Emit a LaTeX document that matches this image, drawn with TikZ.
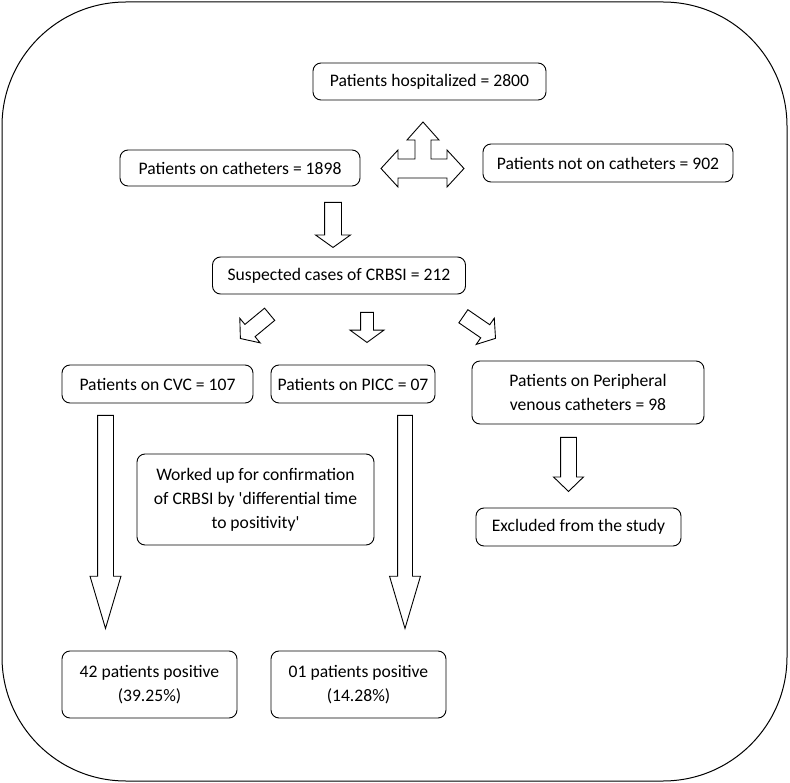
\documentclass[tikz,border=0pt]{standalone}
\usepackage{fontspec}
\setmainfont{Carlito}
\usetikzlibrary{shapes.arrows}

\begin{document}
\begin{tikzpicture}[x=1pt,y=-1pt,
  box/.style={draw,rounded corners=8pt,line width=0.9pt,align=center,inner sep=0pt,font=\fontsize{17.6}{24}\selectfont},
  fatarrow/.style={draw,single arrow,line width=0.9pt,inner xsep=0pt,anchor=tail}]
\useasboundingbox (0,0) rectangle (790,783);
\draw[line width=1pt,rounded corners=124pt] (2,2) rectangle (787,781);
\node[box,minimum width=233,minimum height=37] (hosp) at (429.5,81.5) {Patients hospitalized = 2800};
\node[box,minimum width=240,minimum height=36] (cath) at (240,168) {Patients on catheters = 1898};
\node[box,minimum width=250,minimum height=38] (nocath) at (608,163) {Patients not on catheters = 902};
\node[box,minimum width=253,minimum height=37] (crbsi) at (339,275.5) {Suspected cases of CRBSI = 212};
\node[box,minimum width=191,minimum height=38] (cvc) at (157.5,384) {Patients on CVC = 107};
\node[box,minimum width=164,minimum height=38] (picc) at (353,384) {Patients on PICC = 07};
\node[box,minimum width=232,minimum height=63] (pvc) at (588,392.5) {Patients on Peripheral\\venous catheters = 98};
\node[box,minimum width=205,minimum height=38] (excl) at (578.5,527) {Excluded from the study};
\node[box,minimum width=237,minimum height=91] (workup) at (255.5,499.5) {Worked up for confirmation\\of CRBSI by \textquotesingle differential time\\to positivity\textquotesingle};
\node[box,minimum width=175,minimum height=67] (poscvc) at (149.5,684.5) {42 patients positive\\(39.25\%)};
\node[box,minimum width=175,minimum height=67] (pospicc) at (358.5,684.5) {01 patients positive\\(14.28\%)};
\draw[line width=0.9pt] (423,122) -- (439,140) -- (431,140) -- (431,159) -- (447,159) -- (447,150)
  -- (464,168.5) -- (447,187) -- (447,178) -- (398,178) -- (398,187) -- (381,168.5) -- (398,150)
  -- (398,159) -- (415,159) -- (415,140) -- (407,140) -- cycle;
\node[fatarrow,rotate=-90,minimum height=45,inner ysep=8,single arrow head extend=9,single arrow tip angle=109] (tocrbsi) at (333,202) {};
\node[fatarrow,rotate=-140.4,minimum height=38,inner ysep=7.5,single arrow head extend=8,single arrow tip angle=104] (tocvc) at (270,314) {};
\node[fatarrow,rotate=-90,minimum height=30,inner ysep=6,single arrow head extend=10.5,single arrow tip angle=108] (topicc) at (367,312) {};
\node[fatarrow,rotate=-34.5,minimum height=39,inner ysep=7.5,single arrow head extend=8,single arrow tip angle=104] (topvc) at (463,316) {};
\node[fatarrow,rotate=-90,minimum height=213,inner ysep=7.5,single arrow head extend=7.5,single arrow tip angle=33] (cvcres) at (105.5,415) {};
\node[fatarrow,rotate=-90,minimum height=213,inner ysep=7,single arrow head extend=8,single arrow tip angle=33] (piccres) at (405,415) {};
\node[fatarrow,rotate=-90,minimum height=54,inner ysep=7.5,single arrow head extend=7,single arrow tip angle=92] (toexcl) at (568.5,437) {};
\end{tikzpicture}
\end{document}
